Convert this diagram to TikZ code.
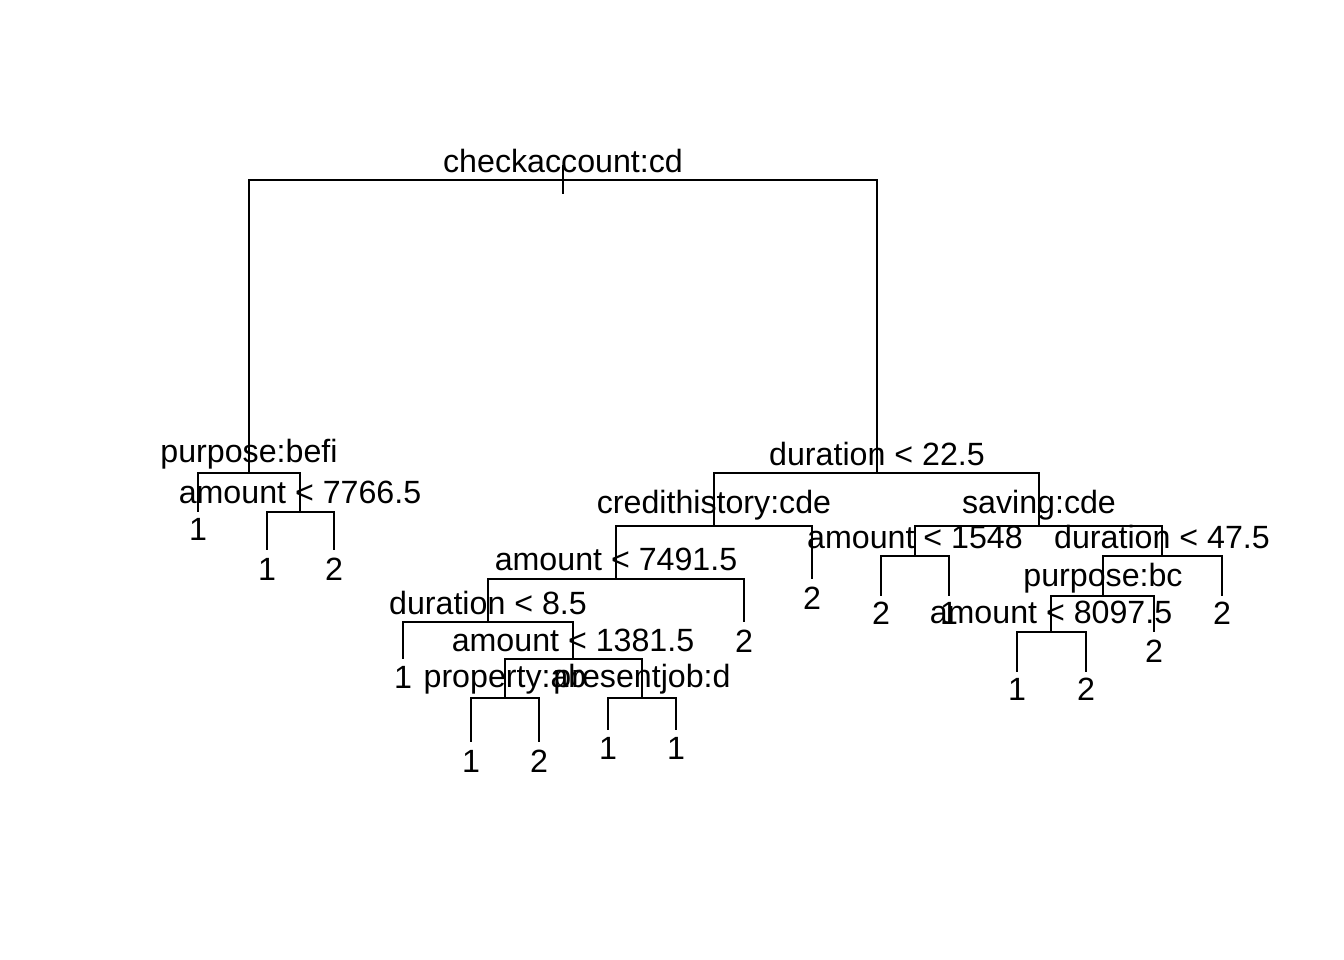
\documentclass[tikz,border=0pt]{standalone}
\usepackage{fontspec}
\setmainfont{Liberation Sans}
\usepackage{tikz}

\begin{document}
\begin{tikzpicture}[x=0.01cm, y=-0.01cm, line width=0.6pt,
        lab/.style={anchor=base, inner sep=0pt, font=\fontsize{9.15}{11}\selectfont},
        branch/.style={to path={-| (\tikztotarget)}}]
        \useasboundingbox (0,0) rectangle (1344,960);

        % splits (at the height of their bars)
        \coordinate (top) at (563,165);
        \coordinate (stem) at (563,194);
        \coordinate (ca) at (563,180);
        \coordinate (pb) at (249,473);
        \coordinate (a1) at (300,512);
        \coordinate (du1) at (877,473);
        \coordinate (ch) at (714,526);
        \coordinate (a2) at (616,579);
        \coordinate (du2) at (488,622);
        \coordinate (a3) at (573,659);
        \coordinate (pr) at (505,698);
        \coordinate (pj) at (642,698);
        \coordinate (sv) at (1039,526);
        \coordinate (a4) at (915,556);
        \coordinate (du3) at (1162,556);
        \coordinate (pu) at (1103,596);
        \coordinate (a5) at (1051,632);

        % leaves
        \coordinate (l1) at (198,512);
        \coordinate (l2) at (267,550);
        \coordinate (l3) at (334,550);
        \coordinate (l4) at (403,659);
        \coordinate (l5) at (471,742);
        \coordinate (l6) at (539,742);
        \coordinate (l7) at (608,730);
        \coordinate (l8) at (676,730);
        \coordinate (l9) at (744,622);
        \coordinate (l10) at (812,579);
        \coordinate (l11) at (881,596);
        \coordinate (l12) at (949,596);
        \coordinate (l13) at (1017,672);
        \coordinate (l14) at (1086,672);
        \coordinate (l15) at (1154,632);
        \coordinate (l16) at (1222,596);

        \node (tca) [lab] at (563,172) {checkaccount:cd};
        \node (tpb) [lab] at (249,462) {purpose:befi};
        \node (ta1) [lab] at (300,503) {amount < 7766.5};
        \node (tdu1) [lab] at (877,465) {duration < 22.5};
        \node (tch) [lab] at (714,513) {credithistory:cde};
        \node (ta2) [lab] at (616,570) {amount < 7491.5};
        \node (tdu2) [lab] at (488,614) {duration < 8.5};
        \node (ta3) [lab] at (573,651) {amount < 1381.5};
        \node (tpr) [lab] at (505,687) {property:ab};
        \node (tpj) [lab] at (642,687) {presentjob:d};
        \node (tsv) [lab] at (1039,513) {saving:cde};
        \node (ta4) [lab] at (915,548) {amount < 1548};
        \node (tdu3) [lab] at (1162,548) {duration < 47.5};
        \node (tpu) [lab] at (1103,586) {purpose:bc};
        \node (ta5) [lab] at (1051,623) {amount < 8097.5};

        \node (y1) [lab] at (198,540) {1};
        \node (y2) [lab] at (267,580) {1};
        \node (y3) [lab] at (334,580) {2};
        \node (y4) [lab] at (403,688) {1};
        \node (y5) [lab] at (471,772) {1};
        \node (y6) [lab] at (539,772) {2};
        \node (y7) [lab] at (608,759) {1};
        \node (y8) [lab] at (676,759) {1};
        \node (y9) [lab] at (744,652) {2};
        \node (y10) [lab] at (812,609) {2};
        \node (y11) [lab] at (881,624) {2};
        \node (y12) [lab] at (949,624) {1};
        \node (y13) [lab] at (1017,700) {1};
        \node (y14) [lab] at (1086,700) {2};
        \node (y15) [lab] at (1154,662) {2};
        \node (y16) [lab] at (1222,624) {2};

        \draw (top) -- (stem);

        \path
            (ca) edge[branch] (pb)
            (ca) edge[branch] (du1)

            (pb) edge[branch] (l1)
            (pb) edge[branch] (a1)
            (a1) edge[branch] (l2)
            (a1) edge[branch] (l3)

            (du1) edge[branch] (ch)
            (du1) edge[branch] (sv)
            (ch) edge[branch] (a2)
            (ch) edge[branch] (l10)
            (a2) edge[branch] (du2)
            (a2) edge[branch] (l9)
            (du2) edge[branch] (l4)
            (du2) edge[branch] (a3)
            (a3) edge[branch] (pr)
            (a3) edge[branch] (pj)
            (pr) edge[branch] (l5)
            (pr) edge[branch] (l6)
            (pj) edge[branch] (l7)
            (pj) edge[branch] (l8)

            (sv) edge[branch] (a4)
            (sv) edge[branch] (du3)
            (a4) edge[branch] (l11)
            (a4) edge[branch] (l12)
            (du3) edge[branch] (pu)
            (du3) edge[branch] (l16)
            (pu) edge[branch] (a5)
            (pu) edge[branch] (l15)
            (a5) edge[branch] (l13)
            (a5) edge[branch] (l14)
        ;
    \end{tikzpicture}
\end{document}
